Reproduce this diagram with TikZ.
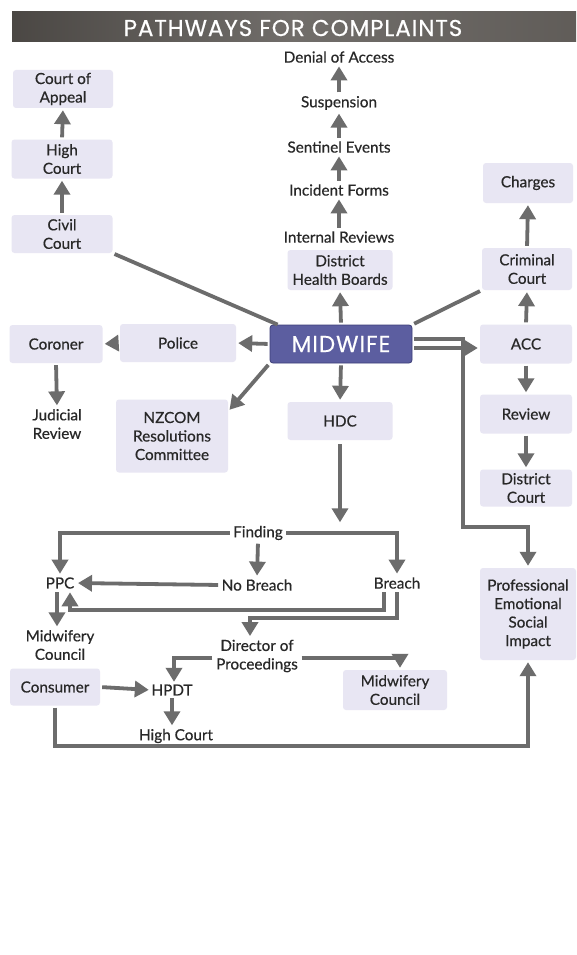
\documentclass[tikz,border=0pt]{standalone}
\usepackage{fontspec}
\setmainfont{Lato}[FakeBold=0.5]
\newfontfamily\ttl{Poppins}[LetterSpace=4,FakeBold=0.4]
\usetikzlibrary{arrows.meta}
\definecolor{boxc}{RGB}{232,230,243}
\definecolor{midc}{RGB}{92,94,160}
\definecolor{midb}{RGB}{60,62,120}
\definecolor{linec}{RGB}{108,108,108}
\definecolor{titlec}{RGB}{88,84,80}
\definecolor{txtc}{RGB}{40,40,40}
\begin{document}
\begin{tikzpicture}[x=1pt,y=-1pt,
  bx/.style={fill=boxc, rounded corners=3pt, align=center, inner sep=1pt, font=\fontsize{15.3}{18.5}\selectfont, text=txtc},
  tx/.style={align=center, inner sep=1.5pt, font=\fontsize{15.3}{18.5}\selectfont, text=txtc},
  ln/.style={draw=linec, line width=3.8pt},
  arr/.style={ln, -{Triangle[width=16pt,length=14pt]}, shorten >=2pt, shorten <=2pt}
]
\useasboundingbox (0,0) rectangle (576,955);
\fill[white] (0,0) rectangle (576,955);
% title
\shade[left color=titlec!85!black, right color=titlec!95, middle color=titlec!85] (12,12) rectangle (576,42);
\node[text=white, font=\ttl\fontsize{23}{25}\selectfont] (title) at (293,28) {PATHWAYS FOR COMPLAINTS};

% left column
\node[bx, minimum width=100pt, minimum height=38pt] (coa) at (63,89) {Court of\\Appeal};
\node[bx, minimum width=101pt, minimum height=39pt] (hc1) at (62,159) {High\\Court};
\node[bx, minimum width=101pt, minimum height=38pt] (civ) at (62,234) {Civil\\Court};

% centre top
\node[tx] (den) at (339,57) {Denial of Access};
\node[tx] (sus) at (339,103) {Suspension};
\node[tx] (sen) at (339,147) {Sentinel Events};
\node[tx] (inc) at (339,190) {Incident Forms};
\node[tx] (irev) at (339,237) {Internal Reviews};
\node[bx, minimum width=105pt, minimum height=40pt] (dhb) at (340,270) {District\\Health Boards};

% right column
\node[bx, minimum width=90pt, minimum height=40pt] (chg) at (528,183) {Charges};
\node[bx, minimum width=90pt, minimum height=42pt] (crim) at (527,269) {Criminal\\Court};
\node[bx, minimum width=92pt, minimum height=39pt] (acc) at (526,344) {ACC};
\node[bx, minimum width=92pt, minimum height=39pt] (rev) at (526,414) {Review};
\node[bx, minimum width=92pt, minimum height=37pt] (dc) at (526,488) {District\\Court};
\node[bx, minimum width=96pt, minimum height=92pt] (prof) at (528,614) {Professional\\Emotional\\Social\\Impact};

% middle row
\node[draw=midb, line width=0.8pt, fill=midc, rounded corners=3pt, minimum width=142pt, minimum height=38pt, text=white, font=\ttl\fontsize{23}{25}\selectfont] (mid) at (341,344) {MIDWIFE};
\node[bx, minimum width=116pt, minimum height=38pt] (pol) at (178,343) {Police};
\node[bx, minimum width=93pt, minimum height=38pt] (cor) at (56,344) {Coroner};
\node[tx] (jr) at (57,424) {Judicial\\Review};
\node[bx, minimum width=112pt, minimum height=73pt] (nz) at (172,436) {NZCOM\\Resolutions\\Committee};
\node[bx, minimum width=105pt, minimum height=38pt] (hdc) at (340,421) {HDC};

% lower part
\node[tx] (find) at (258,533) {Finding};
\node[tx] (nob) at (257,585) {No Breach};
\node[tx] (br) at (397,583) {Breach};
\node[tx] (ppc) at (60,583) {PPC};
\node[tx] (mcl) at (60,645) {Midwifery\\Council};
\node[tx] (dir) at (257,656) {Director of\\Proceedings};
\node[bx, minimum width=90pt, minimum height=37pt] (cons) at (55,687) {Consumer};
\node[tx, inner sep=0.5pt] (hpdt) at (172,690) {HPDT};
\node[bx, minimum width=104pt, minimum height=40pt] (mcb) at (395,690) {Midwifery\\Council};
\node[tx] (hc2) at (176,736) {High Court};

\coordinate (cr) at (463,527);
\coordinate (bp) at (70,610);
\coordinate (bd) at (250,618);
\coordinate (cb) at (57,746);

% connectors
\draw[arr] (hc1.north) -- (coa.south);
\draw[arr] (civ.north) -- (hc1.south);
\draw[ln, shorten <=2pt] (civ.south east) -- ([xshift=8pt]mid.north west);
\draw[arr] (irev.north) -- (inc.south);
\draw[arr] (inc.north) -- (sen.south);
\draw[arr] (sen.north) -- (sus.south);
\draw[arr] (sus.north) -- (den.south);
\draw[arr] (mid.north) -- (dhb.south);
\draw[ln, shorten <=2pt, shorten >=2pt] (mid.north east) -- (crim.south west);
\draw[arr] (crim.north) -- (chg.south);
\draw[arr] (acc.north) -- (crim.south);
\draw[arr] ([yshift=-4pt]mid.east) -- ([yshift=-4pt]acc.west);
\draw[arr] (acc.south) -- (rev.north);
\draw[arr] (rev.south) -- (dc.north);
\draw[arr] (mid.west) -- (pol.east);
\draw[arr] (pol.west) -- (cor.east);
\draw[arr] (cor.south) -- (jr.north);
\draw[arr] (mid.south west) -- ([yshift=-12pt]nz.north east);
\draw[arr] (mid.south) -- (hdc.north);
\draw[arr] ([yshift=5pt]mid.east) -| (cr) -| (prof.north);
\draw[arr, shorten <=4pt] (hdc.south) -- (hdc.south |- find.north);
\draw[arr] (find.west) -| (ppc.north);
\draw[arr] (find.east) -| (br.north);
\draw[arr] (find.south) -- (nob.north);
\draw[arr] (nob.west) -- (ppc.east);
\draw[arr] ([xshift=-3pt]ppc.south) -- ([xshift=-3pt]mcl.north);
\draw[arr] ([xshift=-13pt]br.south) |- (bp) -- ([xshift=10pt]ppc.south);
\draw[arr] (br.south) |- (bd) -- (bd |- dir.north);
\draw[arr] ([yshift=-2pt]dir.west) -| ([xshift=2pt]hpdt.north);
\draw[arr] ([yshift=-2pt]dir.east) -| ([xshift=5pt]mcb.north);
\draw[arr] (cons.east) -- (hpdt.west);
\draw[arr] (hpdt.south) -- ([xshift=-4pt]hc2.north);
\draw[arr] (cons.south) -- (cons.south |- cb) -| (prof.south);
\end{tikzpicture}
\end{document}
